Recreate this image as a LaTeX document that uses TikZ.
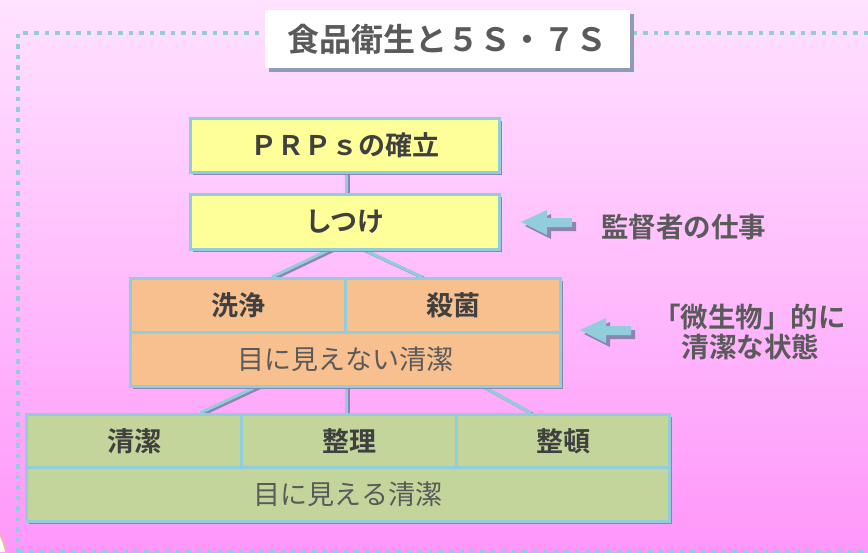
\documentclass[tikz,border=0pt]{standalone}
\usepackage{fontspec}
\newfontfamily\jp[BoldFont={Noto Sans CJK JP Bold}]{Noto Sans CJK JP}
\definecolor{bgtop}{HTML}{FFE2FF}
\definecolor{bgbot}{HTML}{FF97FA}
\definecolor{frameblue}{HTML}{92CDDC}
\definecolor{shadowc}{HTML}{8E84B2}
\definecolor{titleshadow}{HTML}{8F9AB4}
\definecolor{yellowfill}{HTML}{FFFF99}
\definecolor{orangefill}{HTML}{F8BF8F}
\definecolor{greenfill}{HTML}{C3D59B}
\definecolor{txtdark}{HTML}{404040}
\definecolor{txtgray}{HTML}{5A5A5A}
\definecolor{tanc}{HTML}{E6C488}
\tikzset{
  cellbox/.style={draw=frameblue, line width=3pt, inner sep=0pt, anchor=north west},
  boldtxt/.style={font=\jp\bfseries\fontsize{27}{31}\selectfont, text=txtdark},
  normtxt/.style={font=\jp\fontsize{27}{31}\selectfont, text=txtgray},
  sidetxt/.style={font=\jp\bfseries\fontsize{27.5}{30}\selectfont, text=txtgray},
  shadowline/.style={draw=shadowc, line width=3pt},
  blueline/.style={draw=frameblue, line width=3pt},
  dotframe/.style={draw=frameblue, line width=4.5pt, dash pattern=on 4.5pt off 6pt},
}
\begin{document}
\begin{tikzpicture}[x=1pt,y=-1pt]
\useasboundingbox (0,0) rectangle (868,552);
% background
\shade[top color=bgtop, bottom color=bgbot] (0,0) rectangle (868,552);
% bottom-left corner detail
\fill[white] (0,535) .. controls (3,541) .. (6,552) -- (0,552) -- cycle;
\draw[tanc, line width=1.5pt] (0,535) .. controls (3,541) .. (6,552);
% dotted frame
\draw[dotframe] (868,33) -- (18,33) -- (18,552);
\draw[dotframe] (18,551) -- (868,551);

% title
\fill[titleshadow] (269,14) rectangle (634,72);
\node[fill=white, minimum width=365pt, minimum height=58pt, inner sep=0pt, anchor=north west,
      font=\jp\bfseries\fontsize{32}{36}\selectfont, text=txtgray] (title) at (265,10) {食品衛生と５Ｓ・７Ｓ};

% connectors (drawn first, behind boxes)
\coordinate (c1a) at (346,171); \coordinate (c1b) at (346,193);
\coordinate (c2a) at (333,248); \coordinate (c2b) at (272,277);
\coordinate (c3a) at (360,248); \coordinate (c3b) at (422,277);
\coordinate (c4a) at (260,385); \coordinate (c4b) at (200,413);
\coordinate (c5a) at (346,385); \coordinate (c5b) at (346,413);
\coordinate (c6a) at (480,385); \coordinate (c6b) at (531,413);
\foreach \a/\b in {c1a/c1b,c2a/c2b,c3a/c3b,c4a/c4b,c5a/c5b,c6a/c6b}{
  \draw[shadowline] ([shift={(2.5,1.5)}]\a) -- ([shift={(2.5,1.5)}]\b);
  \draw[blueline] (\a) -- (\b);
}

% PRPs box
\fill[shadowc] (193,121) rectangle (502,175);
\node[cellbox, fill=yellowfill, minimum width=309pt, minimum height=54pt, boldtxt] (prps) at (189,117) {ＰＲＰｓの確立};
% しつけ box
\fill[shadowc] (193,197) rectangle (502,252);
\node[cellbox, fill=yellowfill, minimum width=309pt, minimum height=55pt, boldtxt] (shitsuke) at (189,193) {しつけ};

% orange box
\fill[shadowc] (133,281) rectangle (563,389);
\node[cellbox, fill=orangefill, minimum width=215pt, minimum height=54pt, boldtxt] (senjo) at (129,277) {洗浄};
\node[cellbox, fill=orangefill, minimum width=215pt, minimum height=54pt, boldtxt] (sakkin) at (344,277) {殺菌};
\node[cellbox, fill=orangefill, minimum width=430pt, minimum height=54pt, normtxt] (mienai) at (129,331) {目に見えない清潔};

% green box
\fill[shadowc] (29,417) rectangle (672,524);
\node[cellbox, fill=greenfill, minimum width=215pt, minimum height=53pt, boldtxt] (seiketsu) at (25,413) {清潔};
\node[cellbox, fill=greenfill, minimum width=215pt, minimum height=53pt, boldtxt] (seiri) at (240,413) {整理};
\node[cellbox, fill=greenfill, minimum width=213pt, minimum height=53pt, boldtxt] (seiton) at (455,413) {整頓};
\node[cellbox, fill=greenfill, minimum width=643pt, minimum height=54pt, normtxt] (mieru) at (25,466) {目に見える清潔};

% arrows
\foreach \dx/\dy [count=\i] in {0/0, 59/108}{
  \begin{scope}[shift={(\dx,\dy)}]
    \fill[shadowc] (525,226) -- (551,214) -- (551,222) -- (576,222) -- (576,231) -- (551,231) -- (551,239) -- cycle;
    \fill[frameblue] (521,222) -- (547,210) -- (547,218) -- (572,218) -- (572,227) -- (547,227) -- (547,235) -- cycle;
  \end{scope}
}

% side labels
\node[sidetxt, anchor=west, inner sep=0pt] (kantoku) at (601,227) {監督者の仕事};
\node[sidetxt, anchor=west, inner sep=0pt, align=left] (biseibutsu) at (653,332) {「微生物」的に\\\hspace{1.04em}清潔な状態};
\end{tikzpicture}
\end{document}
